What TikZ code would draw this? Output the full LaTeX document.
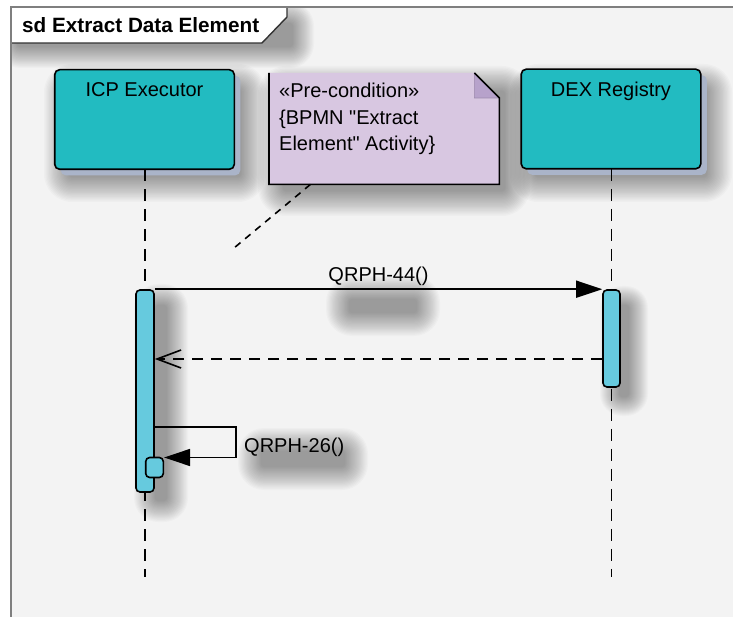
\documentclass[tikz,border=0pt]{standalone}
\usepackage{fontspec}
\setmainfont{Liberation Sans}[Ligatures=TeXOff]
\usetikzlibrary{arrows.meta,calc}

\definecolor{lifebox}{HTML}{22BBC1}
\definecolor{actfill}{HTML}{66CADE}
\definecolor{notefill}{HTML}{D8C7E1}
\definecolor{notefold}{HTML}{B7A2CB}
\definecolor{boxback}{HTML}{AAB4C9}
\definecolor{framegray}{HTML}{7F7F7F}
\definecolor{framebg}{HTML}{F3F3F3}

% soft drop shade: stacked translucent rounded rectangles around x1,y1 -- x2,y2
\newcommand\dropshade[5]{%
  \foreach \k in {0,...,19}{%
    \pgfmathsetmacro\shext{#5*(1-\k/20)}%
    \pgfmathsetmacro\shrc{\shext+2}%
    \fill[black, opacity=0.02, rounded corners=\shrc pt]
      (#1-\shext,#2-\shext) rectangle (#3+\shext,#4+\shext);
  }}

\begin{document}
\begin{tikzpicture}[x=1pt,y=-1pt,
  font=\fontsize{20}{24}\selectfont,
  headbox/.style={draw=black, line width=1.6pt, fill=lifebox, rounded corners=5pt,
    minimum width=178pt, minimum height=98pt, inner sep=0pt},
  actbar/.style={draw=black, line width=1.6pt, fill=actfill, rounded corners=4pt, inner sep=0pt},
  lifeline/.style={line width=1.6pt, dash pattern=on 12pt off 8pt},
  notelink/.style={line width=1.6pt, dash pattern=on 7pt off 6pt},
  syncmsg/.style={line width=1.6pt, -{Triangle[length=26pt,width=17pt]}},
  replymsg/.style={line width=1.6pt, dash pattern=on 11pt off 8pt,
    -{Straight Barb[length=24pt,width=18pt,line width=1.6pt]}},
]
\useasboundingbox (0,0) rectangle (733,617);
\clip (0,0) rectangle (733,617);

% page and frame background
\fill[white] (0,0) rectangle (733,617);
\fill[framebg] (11,7) rectangle (745,630);

\begin{scope}
\clip (11,7) rectangle (745,630);

% soft shades under the elements
\dropshade{18}{24}{292}{46}{22}
\dropshade{70}{90}{240}{176}{26}
\dropshade{536}{90}{706}{176}{26}
\dropshade{284}{92}{504}{190}{26}
\dropshade{156}{306}{166}{500}{22}
\dropshade{620}{306}{628}{396}{20}
\dropshade{350}{300}{416}{312}{24}
\dropshade{262}{452}{344}{466}{24}

% frame title tab
\path[fill=white, draw=black!80, line width=1.4pt]
  (11,7) -- (287,7) -- (287,17) -- (262,43) -- (11,43) -- cycle;
\node (title) [anchor=base west, inner sep=0pt, font=\bfseries\fontsize{20.7}{24}\selectfont]
  at (22,33) {sd Extract Data Element};

% lifeline heads
\node (icp) [headbox, draw=none, fill=none] at (144.5,119.5) {};
\node (dex) [headbox, draw=none, fill=none] at (611,119) {};
\foreach \h in {icp,dex}{
  \path[fill=boxback, rounded corners=5pt]
    ([shift={(6,6)}]\h.north west) rectangle ([shift={(6,6)}]\h.south east);
  \path[fill=lifebox, draw=black, line width=1.6pt, rounded corners=5pt]
    (\h.north west) rectangle (\h.south east);
}
\node (icplbl) [anchor=base] at ($(icp.north)+(0,27)$) {ICP Executor};
\node (dexlbl) [anchor=base] at ($(dex.north)+(0,27)$) {DEX Registry};

% pre-condition note
\node (note) [minimum width=230pt, minimum height=111pt, inner sep=0pt, anchor=north west] at (269,73) {};
\path[fill=notefill]
  (note.north west) -- ($(note.north east)+(-25,0)$) -- ($(note.north east)+(0,25)$)
  -- (note.south east) -- (note.south west) -- cycle;
\filldraw[fill=notefold, draw=notefold!85!black, line width=0.6pt]
  ($(note.north east)+(-25,0)$) -- ($(note.north east)+(-25,25)$) -- ($(note.north east)+(0,25)$) -- cycle;
\draw[line width=1.6pt, line join=miter]
  (note.north west) -- (note.south west) -- (note.south east)
  -- ($(note.north east)+(0,25)$) -- ($(note.north east)+(-25,0)$);
\node (notetext) [anchor=north west, align=left, inner sep=0pt, font=\fontsize{20}{26.5}\selectfont]
  at (279,83) {«Pre-condition»\\\{BPMN "Extract\\Element" Activity\}};
\coordinate (noteend) at (234,248);
\draw[notelink] ($(note.south west)!0.18!(note.south east)$) -- (noteend);

% lifelines
\coordinate (icpend) at (145,577);
\coordinate (dexend) at (611.5,577);
\draw[lifeline] (icp.south -| icpend) -- (icpend);
\draw[lifeline] (dex.south -| dexend) -- (dexend);

% execution specifications
\node (icpact) [actbar, minimum width=18pt, minimum height=202pt] at (145,391) {};
\node (dexact) [actbar, minimum width=17pt, minimum height=97pt] at (611.5,338.5) {};
\node (nested) [actbar, minimum width=17.6pt, minimum height=20pt] at (154.5,467.5) {};

% messages
\draw[syncmsg] (icpact.north east) -- (dexact.north west)
  node (m1lbl) [pos=0.5, anchor=base, yshift=8pt] {QRPH-44()};

\coordinate (ret) at (0,359);
\draw[replymsg] (dexact.west |- ret) -- (icpact.east |- ret);

\coordinate (selfa) at (236,427);
\coordinate (selfb) at (236,457.5);
\draw[syncmsg] (icpact.east |- selfa) -- (selfa) -- (selfb) -- (nested.east |- selfb);
\node (m2lbl) [anchor=base west, inner sep=2pt] at (242,452) {QRPH-26()};
\end{scope}

% frame border
\draw[framegray, line width=2pt] (11,7) rectangle (745,630);
\end{tikzpicture}
\end{document}
